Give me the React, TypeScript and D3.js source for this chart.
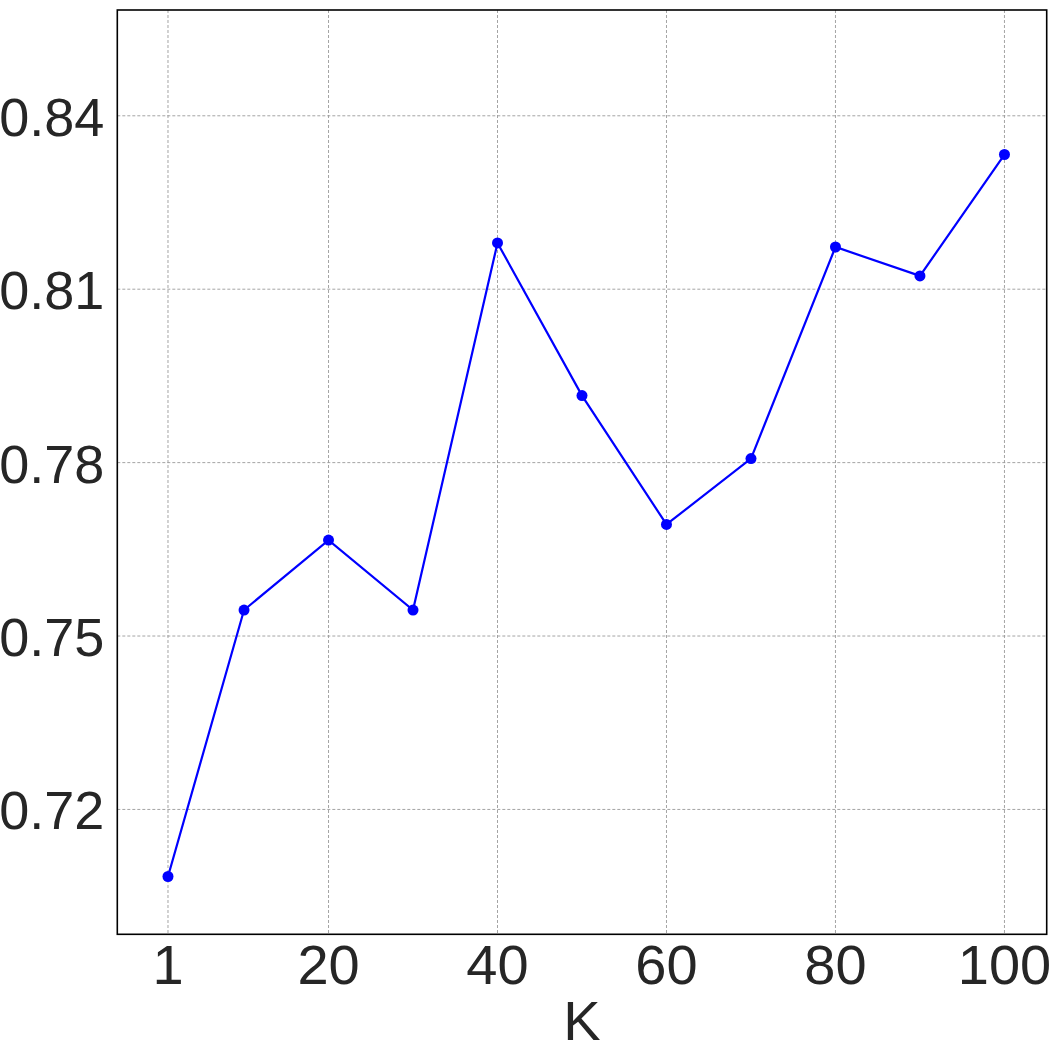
import React from 'react'
import * as d3 from 'd3'

const kValues = [1, 10, 20, 30, 40, 50, 60, 70, 80, 90, 100]
const scores = [0.7084, 0.7545, 0.7666, 0.7545, 0.818, 0.7916, 0.7693, 0.7807, 0.8173, 0.8123, 0.8333]
const xTicks = [1, 20, 40, 60, 80, 100]
const yTicks = [0.72, 0.75, 0.78, 0.81, 0.84]

const W = 1061
const H = 1061
const plot = { left: 117.3, right: 1046.7, top: 10, bottom: 934.3 }
const font = '"Liberation Sans", Arial, sans-serif'
const textColor = '#262626'

export default function App() {
  const x = d3.scaleLinear().domain([-5, 105]).range([plot.left, plot.right])
  const y = d3.scaleLinear().domain([0.6984, 0.8583]).range([plot.bottom, plot.top])

  const pts = kValues.map((k, i) => [k, scores[i]] as [number, number])
  const line = d3
    .line<[number, number]>()
    .x((d) => x(d[0]))
    .y((d) => y(d[1]))

  return (
    <svg
      width={W}
      height={H}
      style={{ position: 'absolute', left: 0, top: 0, background: '#fff' }}
      fontFamily={font}
    >
      <rect x={0} y={0} width={W} height={H} fill="#fff" />

      {/* grid */}
      {xTicks.map((t) => (
        <line
          key={'gx' + t}
          x1={x(t)}
          x2={x(t)}
          y1={plot.top}
          y2={plot.bottom}
          stroke="#9a9a9a"
          strokeWidth={0.9}
          strokeDasharray="3,2"
        />
      ))}
      {yTicks.map((t) => (
        <line
          key={'gy' + t}
          x1={plot.left}
          x2={plot.right}
          y1={y(t)}
          y2={y(t)}
          stroke="#9a9a9a"
          strokeWidth={0.9}
          strokeDasharray="3,2"
        />
      ))}

      {/* series */}
      <path d={line(pts) || ''} fill="none" stroke="#0000ff" strokeWidth={2.2} />
      {pts.map((d, i) => (
        <circle key={'p' + i} cx={x(d[0])} cy={y(d[1])} r={5.5} fill="#0000ff" />
      ))}

      {/* frame */}
      <rect
        x={plot.left}
        y={plot.top}
        width={plot.right - plot.left}
        height={plot.bottom - plot.top}
        fill="none"
        stroke="#000"
        strokeWidth={1.6}
      />

      {/* tick labels */}
      {xTicks.map((t) => (
        <text key={'tx' + t} x={x(t)} y={984} textAnchor="middle" fontSize={56} fill={textColor}>
          {t}
        </text>
      ))}
      {yTicks.map((t) => (
        <text
          key={'ty' + t}
          x={104.3}
          y={y(t) + 20}
          textAnchor="end"
          fontSize={54}
          fill={textColor}
        >
          {d3.format('.2f')(t)}
        </text>
      ))}

      <text x={(plot.left + plot.right) / 2} y={1040} textAnchor="middle" fontSize={56} fill={textColor}>
        K
      </text>
    </svg>
  )
}
